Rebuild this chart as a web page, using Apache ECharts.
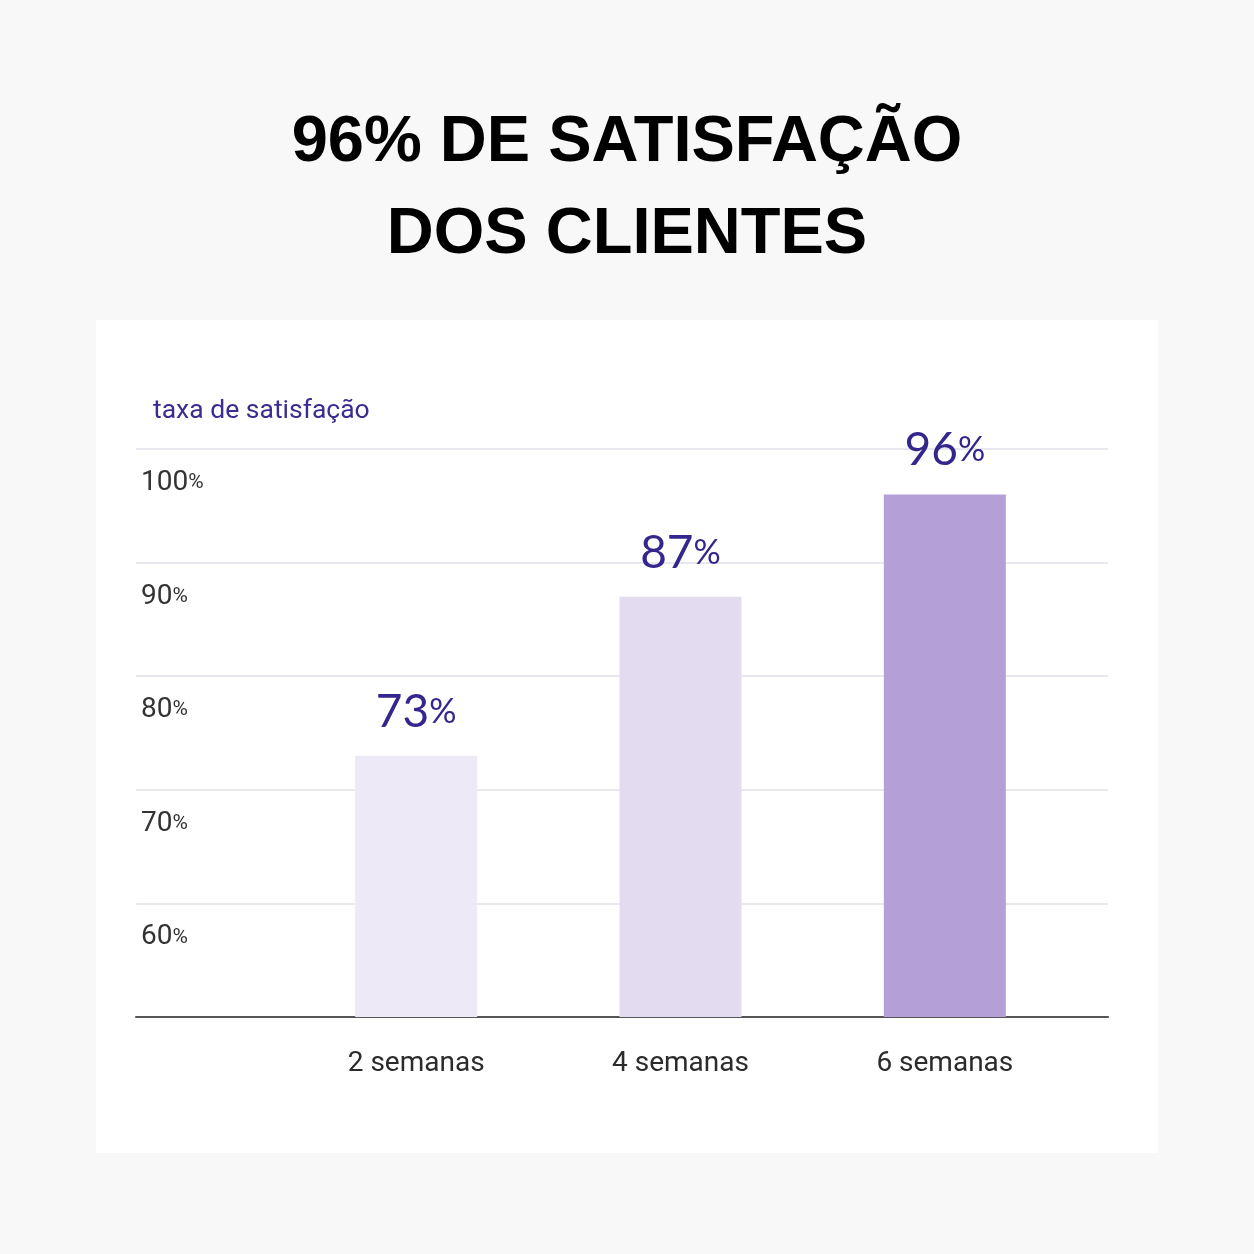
<!DOCTYPE html>
<html>
<head>
    <meta charset="utf-8">
    <title>Satisfação dos clientes</title>
    <script src="https://cdn.jsdelivr.net/npm/echarts@6/dist/echarts.min.js"></script>
    <style>
        html, body { margin: 0; padding: 0; background: #f8f8f8; }
    </style>
</head>
<body>
    <div id="main" style="width: 1254px;height:1254px;"></div>
    <script type="text/javascript">
        // dados
        var categorias = ['2 semanas', '4 semanas', '6 semanas'];
        var satisfacao = [73, 87, 96];
        var eixoMin = 50, eixoMax = 100, eixoPasso = 10;

        var titulo = '96% DE SATISFAÇÃO\nDOS CLIENTES';
        var nomeEixo = 'taxa de satisfação';

        var coresBarras = ['#eee9f6', '#e3dcf0', '#b59fd7'];
        var roxo = '#33268c';

        var myChart = echarts.init(document.getElementById('main'));

        var option = {
            backgroundColor: '#f8f8f8',
            title: {
                text: titulo,
                left: 'center',
                top: 92,
                textStyle: {
                    fontFamily: 'Liberation Sans',
                    fontWeight: 'bold',
                    fontSize: 65,
                    lineHeight: 92,
                    color: '#000'
                }
            },
            // cartão branco
            graphic: [{
                type: 'rect',
                left: 96,
                top: 320,
                z: -10,
                shape: { width: 1062, height: 833 },
                style: { fill: '#ffffff' }
            }],
            grid: [
                { left: 136, right: 146, top: 449, bottom: 237 },   // linhas e eixo
                { left: 284, right: 177, top: 449, bottom: 237 }    // barras
            ],
            xAxis: [{
                gridIndex: 0,
                type: 'value',
                min: 0,
                max: 1,
                axisLine: { show: true, lineStyle: { color: '#555', width: 2 } },
                axisTick: { show: false },
                axisLabel: { show: false },
                splitLine: { show: false }
            }, {
                gridIndex: 1,
                type: 'category',
                data: categorias,
                axisLine: { show: false },
                axisTick: { show: false },
                axisLabel: {
                    margin: 33,
                    fontFamily: 'Roboto',
                    fontSize: 28,
                    color: '#2b2b2b'
                }
            }],
            yAxis: [{
                gridIndex: 0,
                type: 'value',
                min: eixoMin,
                max: eixoMax,
                interval: eixoPasso,
                name: nomeEixo,
                nameLocation: 'end',
                nameGap: 38,
                nameTextStyle: {
                    align: 'left',
                    verticalAlign: 'middle',
                    padding: [0, 0, 0, 17],
                    fontFamily: 'Roboto',
                    fontSize: 26.5,
                    color: '#3a2d91'
                },
                axisLine: { show: false },
                axisTick: { show: false },
                splitLine: { lineStyle: { color: '#e9e7ef', width: 2 } },
                axisLabel: {
                    inside: true,
                    margin: 5,
                    showMinLabel: false,
                    verticalAlign: 'top',
                    padding: [19, 0, 0, 0],
                    formatter: function (v) { return '{n|' + v + '}{p|%}'; },
                    rich: {
                        n: { fontFamily: 'Roboto', fontSize: 28, color: '#333', lineHeight: 30 },
                        p: { fontFamily: 'Roboto', fontSize: 21, color: '#333', lineHeight: 30 }
                    }
                }
            }, {
                gridIndex: 1,
                type: 'value',
                min: eixoMin,
                max: eixoMax,
                interval: eixoPasso,
                show: false
            }],
            series: [{
                type: 'bar',
                xAxisIndex: 1,
                yAxisIndex: 1,
                barWidth: 122,
                data: satisfacao,
                itemStyle: {
                    color: function (p) { return coresBarras[p.dataIndex]; }
                },
                label: {
                    show: true,
                    position: 'top',
                    distance: 21,
                    formatter: function (p) { return '{n|' + p.value + '}{p|%}'; },
                    rich: {
                        n: { fontFamily: 'Lato', fontSize: 46, color: roxo, lineHeight: 46 },
                        p: { fontFamily: 'Lato', fontSize: 34, color: roxo, lineHeight: 46 }
                    }
                }
            }]
        };

        myChart.setOption(option);
    </script>
</body>
</html>
